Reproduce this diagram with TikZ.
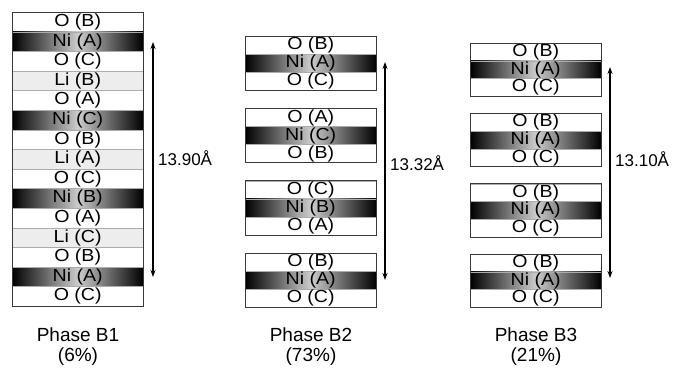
\documentclass[tikz,border=0pt]{standalone}
\usepackage{fontspec}
\setmainfont{Liberation Sans}
\usetikzlibrary{arrows.meta}

% layer label: slightly widened sans text
\newcommand{\laylab}[1]{\scalebox{1.12}[1]{#1}}

% dark edges, light centre; stops placed in TikZ's 25bp--75bp fitting window
\pgfdeclarehorizontalshading{nishade}{100bp}{
  color(0bp)=(black); color(25bp)=(black); color(50bp)=(black!20);
  color(75bp)=(black); color(100bp)=(black)}

\tikzset{
  layer/.style={draw=gray!65, minimum width=131pt, minimum height=#1,
    inner sep=0pt, anchor=north west, font=\fontsize{17.5}{18}\selectfont},
  ox/.style={fill=white},
  li/.style={fill=gray!14},
  ni/.style={shading=nishade},
  frame/.style={draw=gray!45!black, line width=0.7pt},
  span/.style={{Stealth[length=7pt,width=5pt]}-{Stealth[length=7pt,width=5pt]}, line width=1.2pt},
  dist/.style={anchor=west, inner sep=0pt, font=\fontsize{17}{18}\selectfont},
  phase/.style={anchor=base, inner sep=0pt, font=\fontsize{19}{20}\selectfont}
}

\begin{document}
\begin{tikzpicture}[x=1pt,y=-1pt]
\useasboundingbox[fill=white] (0,0) rectangle (676,368);

% ---------- Phase B1: fifteen stacked layers ----------
\foreach [count=\i from 0] \t/\l in {ox/O (B),ni/Ni (A),ox/O (C),li/Li (B),ox/O (A),ni/Ni (C),ox/O (B),li/Li (A),ox/O (C),ni/Ni (B),ox/O (A),li/Li (C),ox/O (B),ni/Ni (A),ox/O (C)}
  \node[layer=19.6pt, \t] (b1r\i) at (12,12+19.6*\i) {\laylab{\l}};
\draw[frame] (b1r0.north west) rectangle (b1r14.south east);

% ---------- Phase B2: four O-Ni-O slabs ----------
\foreach [count=\k from 0] \top/\na/\nb/\nc in {36/B/A/C,108.3/A/C/B,180.7/C/B/A,253/B/A/C}{
  \node[layer=18pt, ox] (b2s\k a) at (245,\top) {\laylab{O (\na)}};
  \node[layer=18pt, ni] (b2s\k b) at (245,\top+18) {\laylab{Ni (\nb)}};
  \node[layer=18pt, ox] (b2s\k c) at (245,\top+36) {\laylab{O (\nc)}};
  \draw[frame] (b2s\k a.north west) rectangle (b2s\k c.south east);
}

% ---------- Phase B3: four identical slabs ----------
\foreach [count=\k from 0] \top in {43,113.3,183.7,254}{
  \node[layer=17.6pt, ox] (b3s\k a) at (470,\top) {\laylab{O (B)}};
  \node[layer=17.6pt, ni] (b3s\k b) at (470,\top+17.6) {\laylab{Ni (A)}};
  \node[layer=17.6pt, ox] (b3s\k c) at (470,\top+35.2) {\laylab{O (C)}};
  \draw[frame] (b3s\k a.north west) rectangle (b3s\k c.south east);
}

% ---------- repeat distances ----------
\coordinate (a1t) at (153,42);  \coordinate (a1b) at (153,277);
\coordinate (a2t) at (385,62);  \coordinate (a2b) at (385,280);
\coordinate (a3t) at (610,67);  \coordinate (a3b) at (610,278);
\draw[span] (a1t) -- (a1b);
\draw[span] (a2t) -- (a2b);
\draw[span] (a3t) -- (a3b);
\node[dist] (d1) at (158,158) {13.90Å};
\node[dist] (d2) at (390,163) {13.32Å};
\node[dist] (d3) at (615,159) {13.10Å};

% ---------- phase captions ----------
\node[phase] (p1) at (78,341) {Phase B1};
\node[phase] (q1) at (78,361) {(6\%)};
\node[phase] (p2) at (311,341) {Phase B2};
\node[phase] (q2) at (311,361) {(73\%)};
\node[phase] (p3) at (536,341) {Phase B3};
\node[phase] (q3) at (536,361) {(21\%)};
\end{tikzpicture}
\end{document}
